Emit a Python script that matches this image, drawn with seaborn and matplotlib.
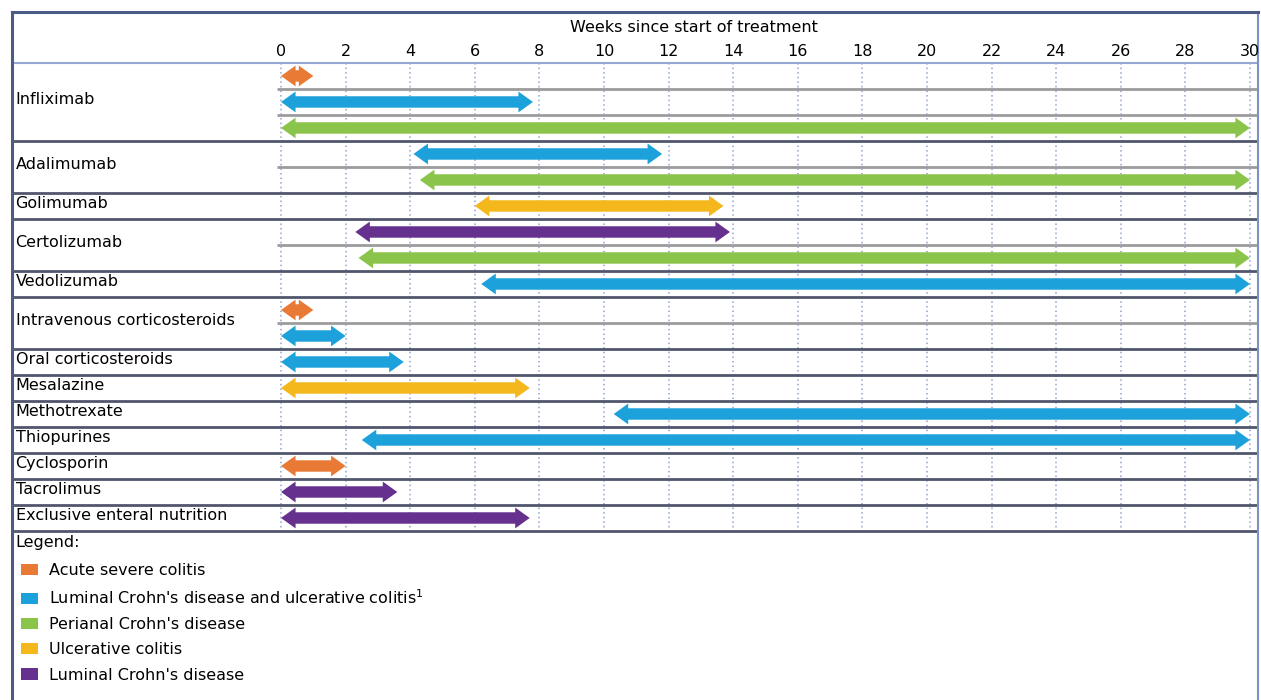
import numpy as np
import seaborn as sns
import matplotlib.pyplot as plt
from matplotlib.patches import Patch

# ---- data ----
drugs = ["Infliximab", "Adalimumab", "Golimumab", "Certolizumab", "Vedolizumab",
         "Intravenous corticosteroids", "Oral corticosteroids", "Mesalazine",
         "Methotrexate", "Thiopurines", "Cyclosporin", "Tacrolimus",
         "Exclusive enteral nutrition"]

groups = ["Acute severe colitis",
          "Luminal Crohn's disease and ulcerative colitis$^{1}$",
          "Perianal Crohn's disease",
          "Ulcerative colitis",
          "Luminal Crohn's disease"]
group_colors = ["#E97A36", "#1DA1DB", "#8AC44B", "#F4B81D", "#66308F"]

# one entry per arrow (drug, indication group index, start week, end week)
arrow_drug = ["Infliximab", "Infliximab", "Infliximab",
              "Adalimumab", "Adalimumab",
              "Golimumab",
              "Certolizumab", "Certolizumab",
              "Vedolizumab",
              "Intravenous corticosteroids", "Intravenous corticosteroids",
              "Oral corticosteroids",
              "Mesalazine",
              "Methotrexate",
              "Thiopurines",
              "Cyclosporin",
              "Tacrolimus",
              "Exclusive enteral nutrition"]
arrow_group = [0, 1, 2, 1, 2, 3, 4, 2, 1, 0, 1, 1, 3, 1, 1, 0, 4, 4]
arrow_start = [0, 0, 0, 4.1, 4.3, 6.0, 2.3, 2.4, 6.2, 0, 0, 0, 0, 10.3, 2.5, 0, 0, 0]
arrow_end = [1.0, 7.8, 30, 11.8, 30, 13.7, 13.9, 30, 30, 1.0, 2.0, 3.8, 7.7, 30, 30, 2.0, 3.6, 7.7]

weeks = np.arange(0, 31, 2)

# ---- layout of rows (one sub-row per arrow) ----
n_sub = [arrow_drug.count(d) for d in drugs]
bounds = np.concatenate([[0], np.cumsum(n_sub)])
sub_y = []
seen = {}
for d in arrow_drug:
    k = seen.get(d, 0)
    seen[d] = k + 1
    sub_y.append(bounds[drugs.index(d)] + k + 0.5)

sns.set_style("white")
plt.rcParams["font.family"] = ["DejaVu Sans"]
plt.rcParams["text.color"] = "black"
fs = 11.5

fig = plt.figure(figsize=(12.61, 7.0), dpi=100)
ax = fig.add_axes([12 / 1261, 0, 1246 / 1261, 688 / 700])
ax.set_xlim(-8.33, 30.25)
ax.set_ylim(24.5, -1.96)
ax.set_xticks([])
ax.set_yticks([])
for s in ["left", "top"]:
    ax.spines[s].set_color("#4d5c85")
    ax.spines[s].set_linewidth(2.2)
ax.spines["right"].set_color("#7f90c2")
ax.spines["right"].set_linewidth(1.5)
ax.spines["bottom"].set_visible(False)

# header
ax.text(12.8, -1.38, "Weeks since start of treatment", ha="center", va="center", fontsize=fs)
for w in weeks:
    ax.text(w, -0.45, str(w), ha="center", va="center", fontsize=fs)
ax.vlines(weeks, 0, bounds[-1], colors="#8ea2d4", linestyles=(0, (1, 2)), lw=1.1, zorder=1)

# row lines
ax.axhline(0, color="#97a6d3", lw=1.5, zorder=2)
for b in bounds[1:]:
    ax.axhline(b, color="#50566c", lw=2.0, zorder=2)
for i, d in enumerate(drugs):
    for k in range(1, n_sub[i]):
        ax.hlines(bounds[i] + k, -0.12, 30.25, colors="#9c9c9c", lw=2.0, zorder=2)
    ax.text(-8.22, (bounds[i] + bounds[i + 1]) / 2 - 0.08, d, ha="left", va="center", fontsize=fs)

# double headed arrows
shaft, head = 0.22, 0.40
for y, g, x0, x1 in zip(sub_y, arrow_group, arrow_start, arrow_end):
    hl = min(0.45, (x1 - x0) / 2.2)
    px = [x0, x0 + hl, x0 + hl, x1 - hl, x1 - hl, x1, x1 - hl, x1 - hl, x0 + hl, x0 + hl]
    py = [y, y - head, y - shaft, y - shaft, y - head, y, y + head, y + shaft, y + shaft, y + head]
    ax.fill(px, py, color=group_colors[g], lw=0, zorder=3)

# legend
ax.text(-8.23, 18.46, "Legend:", ha="left", va="center", fontsize=fs)
handles = [Patch(facecolor=c, edgecolor="none") for c in group_colors]
ax.legend(handles, groups, loc="upper left", bbox_to_anchor=(0.007, 0.199),
          frameon=False, fontsize=fs, handlelength=1.1, handleheight=0.7,
          handletextpad=0.65, labelspacing=0.64, borderpad=0, borderaxespad=0)

fig.savefig("out.png", dpi=100)
